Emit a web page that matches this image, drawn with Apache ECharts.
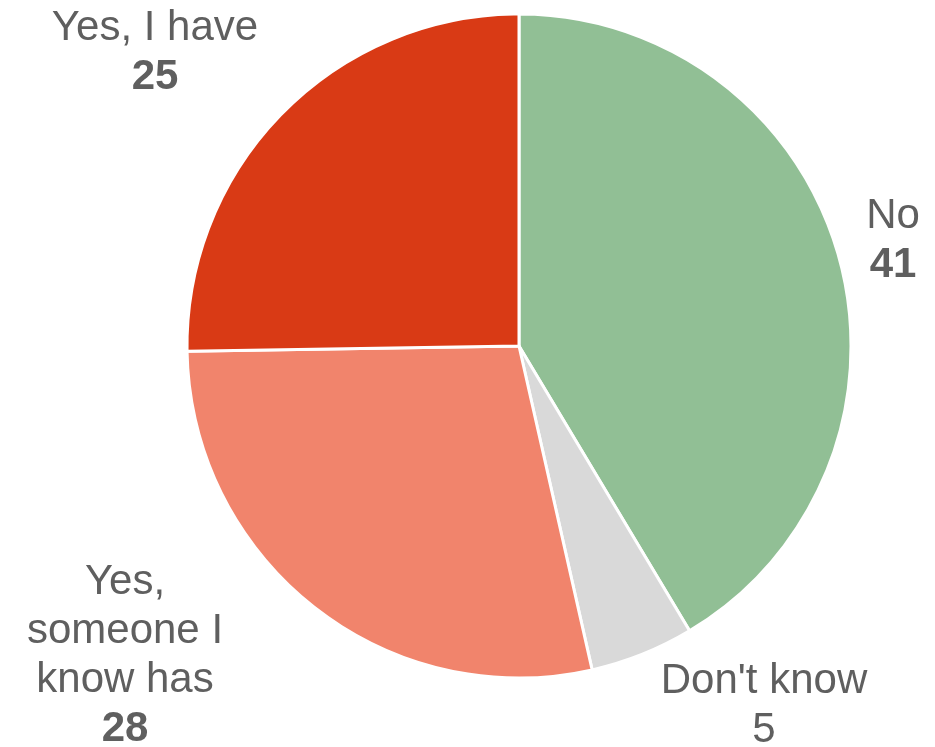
<!DOCTYPE html>
<html>
<head>
<meta charset="utf-8">
<script src="https://cdn.jsdelivr.net/npm/echarts@6/dist/echarts.min.js"></script>
<style>
  html, body { margin: 0; padding: 0; background: #fff; }
  #chart { width: 935px; height: 747px; }
</style>
</head>
<body>
<div id="chart"></div>
<script>
// Survey answers, clockwise from 12 o'clock
const categories = ['No', "Don't know", 'Yes,\nsomeone I\nknow has', 'Yes, I have'];
const values = [41, 5, 28, 25];
const boldValue = [true, false, true, true];

const colors = ['#91BF95', '#D9D9D9', '#F1846C', '#D93A15'];

// Label anchor points (text block centres) around the pie
const labelAnchors = [[893, 241], [764, 706], [125, 656], [155, 53]];

const chart = echarts.init(document.getElementById('chart'));
chart.setOption({
  animation: false,
  backgroundColor: '#ffffff',
  series: [{
    type: 'pie',
    center: [519, 346],
    radius: 332,
    startAngle: 90,
    clockwise: true,
    data: categories.map((c, i) => ({
      name: c,
      value: values[i],
      itemStyle: { color: colors[i] }
    })),
    itemStyle: { borderColor: '#ffffff', borderWidth: 3 },
    label: {
      show: true,
      position: 'outside',
      overflow: 'none',
      formatter: p => '{n|' + p.name + '}\n{' + (boldValue[p.dataIndex] ? 'b' : 'v') + '|' + p.value + '}',
      rich: {
        n: { fontFamily: 'Liberation Sans, Arial, sans-serif', fontSize: 42, color: '#5f5f5f', lineHeight: 49, align: 'center' },
        b: { fontFamily: 'Liberation Sans, Arial, sans-serif', fontSize: 42, fontWeight: 'bold', color: '#5f5f5f', lineHeight: 49, align: 'center' },
        v: { fontFamily: 'Liberation Sans, Arial, sans-serif', fontSize: 42, color: '#5f5f5f', lineHeight: 49, align: 'center' }
      }
    },
    labelLine: { show: false },
    labelLayout: p => ({
      x: labelAnchors[p.dataIndex][0],
      y: labelAnchors[p.dataIndex][1],
      align: 'center',
      verticalAlign: 'middle'
    }),
    emphasis: { disabled: true }
  }]
});
</script>
</body>
</html>
